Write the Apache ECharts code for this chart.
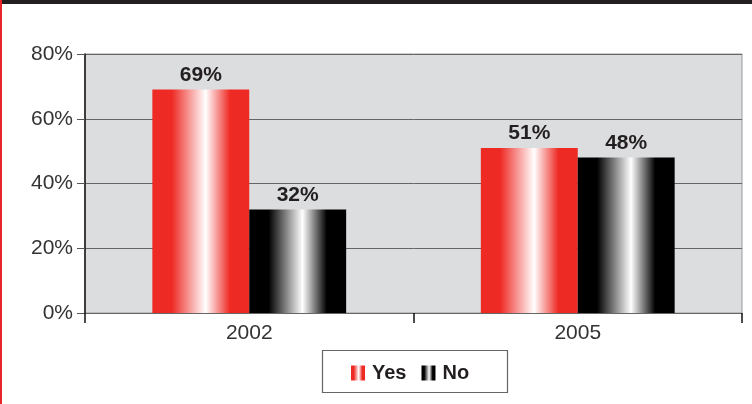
<!DOCTYPE html>
<html>
<head>
<meta charset="utf-8">
<script src="https://cdn.jsdelivr.net/npm/echarts@6/dist/echarts.min.js"></script>
<style>
html,body{margin:0;padding:0;background:#fff;}
#c{width:752px;height:404px;}
</style>
</head>
<body>
<div id="c"></div>
<script>
var categories = ['2002', '2005'];
var yesValues = [69, 51];
var noValues = [32, 48];
var seriesNames = ['Yes', 'No'];

function grad(base) {
  return new echarts.graphic.LinearGradient(0, 0, 1, 0, [
    {offset: 0, color: base},
    {offset: 0.2, color: base},
    {offset: 0.55, color: '#ffffff'},
    {offset: 0.8, color: base},
    {offset: 1, color: base}
  ]);
}

var chart = echarts.init(document.getElementById('c'));
var labelStyle = {
  show: true, position: 'top', distance: 4,
  formatter: '{c}%', fontFamily: 'Liberation Sans', fontWeight: 'bold',
  fontSize: 21, color: '#231f20'
};
chart.setOption({
  animation: false,
  textStyle: {fontFamily: 'Liberation Sans'},
  graphic: [
    {type: 'rect', shape: {x: 0, y: 0, width: 752, height: 4}, style: {fill: '#231f20'}, z: 10},
    {type: 'rect', shape: {x: 0, y: 0, width: 2, height: 404}, style: {fill: '#e8262a'}, z: 10},
    {type: 'rect', shape: {x: 322.5, y: 350.5, width: 185, height: 42}, style: {fill: 'none', stroke: '#666', lineWidth: 1.2}, z: 10}
  ],
  grid: {
    left: 85, right: 10, top: 54, bottom: 91,
    show: true, backgroundColor: '#dcdddf', borderColor: '#9a9a9a', borderWidth: 1
  },
  legend: {
    data: seriesNames,
    left: 346, top: 358,
    itemWidth: 14, itemHeight: 15, itemGap: 15,
    icon: 'rect',
    textStyle: {fontFamily: 'Liberation Sans', fontWeight: 'bold', fontSize: 20, color: '#231f20', padding: [0, 0, 0, 2]}
  },
  xAxis: {
    type: 'category',
    data: categories,
    axisLine: {show: true, lineStyle: {color: '#666', width: 1}},
    axisTick: {show: true, length: 10, lineStyle: {color: '#111', width: 1.5}, alignWithLabel: false},
    axisLabel: {fontSize: 21, color: '#333', margin: 10}
  },
  yAxis: {
    type: 'value', min: 0, max: 80, interval: 20,
    axisLine: {show: true, lineStyle: {color: '#111', width: 1.5}},
    axisTick: {show: true, length: 8, lineStyle: {color: '#555'}},
    axisLabel: {fontSize: 21, color: '#333', margin: 12, formatter: '{value}%'},
    splitLine: {show: true, lineStyle: {color: '#666', width: 1}}
  },
  series: [
    {name: seriesNames[0], type: 'bar', data: yesValues, barGap: '0%', barCategoryGap: '41%',
     itemStyle: {color: grad('#ee2a24')}, label: labelStyle},
    {name: seriesNames[1], type: 'bar', data: noValues, barGap: '0%', barCategoryGap: '41%',
     itemStyle: {color: grad('#000000')}, label: labelStyle}
  ]
});
</script>
</body>
</html>
